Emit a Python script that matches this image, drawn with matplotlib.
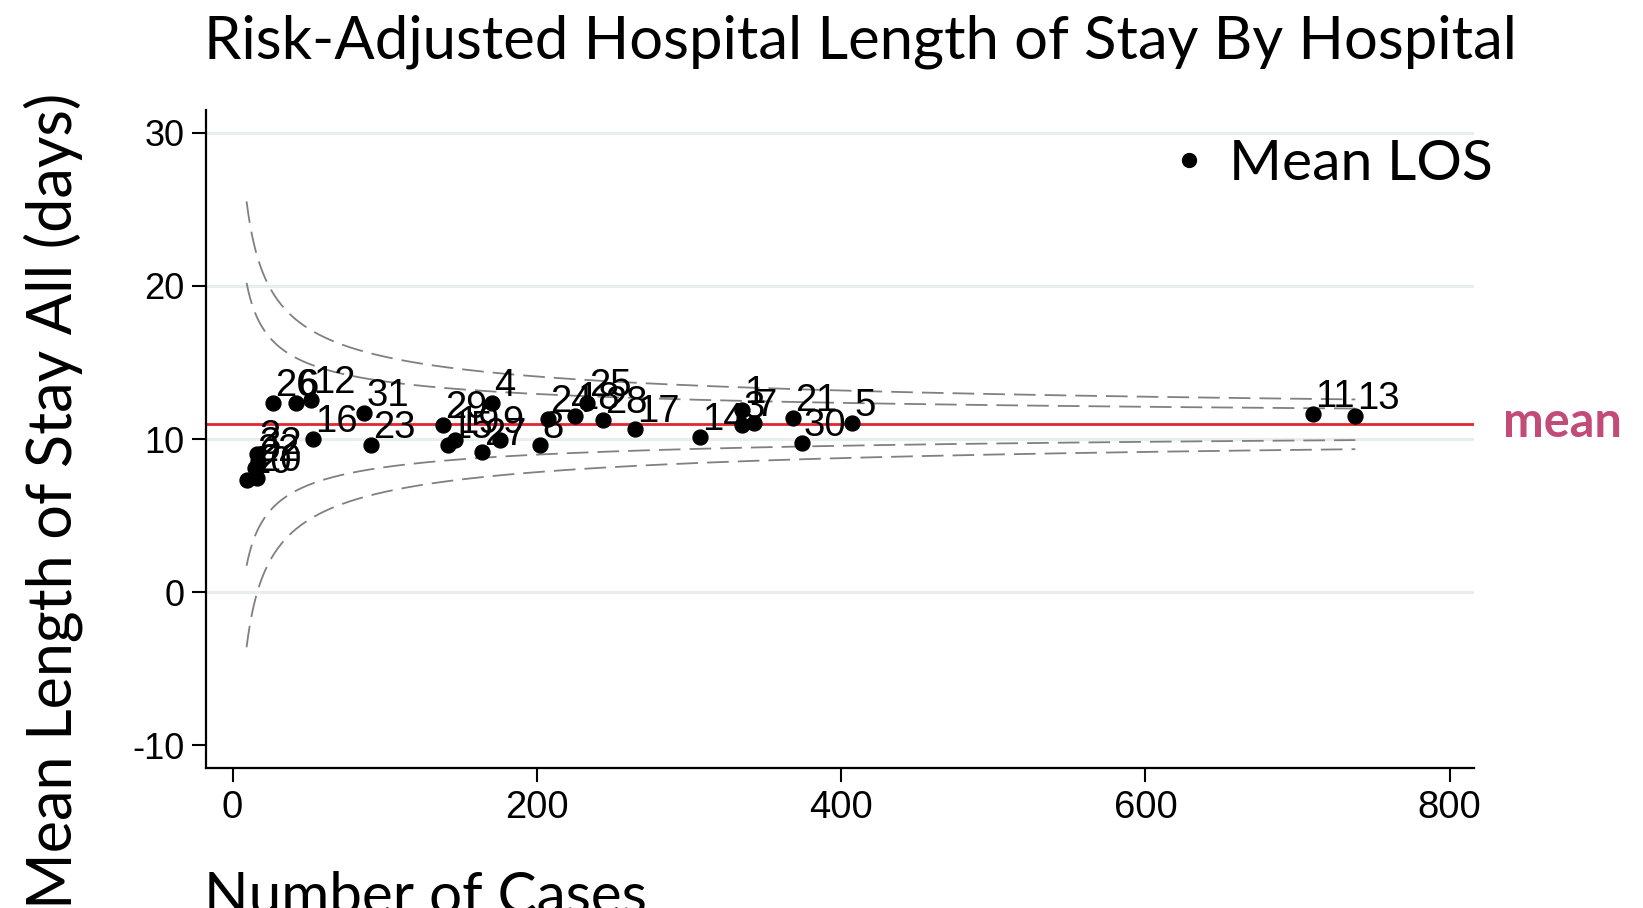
import numpy as np
import matplotlib
matplotlib.use("Agg")
import matplotlib.pyplot as plt
from matplotlib.lines import Line2D

# ---- data ----
hospital = ["10", "20", "22", "32", "2", "26", "6", "12", "16", "31", "23",
            "29", "15", "19", "27", "4", "9", "8", "24", "18", "25", "28",
            "17", "14", "1", "3", "7", "21", "30", "5", "11", "13"]
cases = [9.2, 15.8, 15.0, 16.5, 15.8, 26.6, 41.5, 51.5, 52.6, 86.4, 90.8,
         138.5, 141.8, 146.2, 163.8, 170.4, 175.8, 202.1, 207.6, 225.1, 232.8, 243.7,
         264.6, 307.3, 334.7, 334.7, 342.8, 368.7, 374.2, 407.1, 710.0, 738.0]
mean_los = [7.32, 7.43, 8.10, 8.55, 9.05, 12.34, 12.34, 12.55, 9.98, 11.72, 9.61,
            10.92, 9.61, 9.94, 9.17, 12.38, 9.94, 9.61, 11.29, 11.50, 12.33, 11.25,
            10.66, 10.15, 11.90, 10.92, 11.03, 11.35, 9.72, 11.07, 11.64, 11.50]
overall_mean = 10.96
sd_los = 14.3
z_inner = 1.96
z_outer = 3.09

xticks = [0, 200, 400, 600, 800]
yticks = [-10, 0, 10, 20, 30]
grid_vals = [0, 10, 20, 30]

W, H = 1643, 908
fig = plt.figure(figsize=(W / 100, H / 100), dpi=100)
ax = fig.add_axes([206.4 / W, 1 - 768 / H, (1474 - 206.4) / W, (768 - 110) / H])

ax.set_xlim(-17.2, 816)
ax.set_ylim(-11.5, 31.5)

for g in grid_vals:
    ax.axhline(g, color="#e7eeed", lw=2.2, zorder=0)

# funnel limits
n = np.linspace(min(cases), max(cases), 600)
for z in (z_inner, z_outer):
    d = z * sd_los / np.sqrt(n)
    ax.plot(n, overall_mean + d, color="#808080", lw=1.3, ls=(0, (12, 5)), zorder=1)
    ax.plot(n, overall_mean - d, color="#808080", lw=1.3, ls=(0, (12, 5)), zorder=1)

ax.axhline(overall_mean, color="#e3262e", lw=2.0, zorder=2)

ax.scatter(cases, mean_los, s=115, color="black", zorder=3)
for lab, x, y in zip(hospital, cases, mean_los):
    ax.annotate(lab, (x, y), xytext=(1.5, 5), textcoords="offset points",
                fontsize=27.5, family="Liberation Sans", color="black",
                ha="left", va="baseline", zorder=4)

ax.set_xticks(xticks)
ax.set_yticks(yticks)
ax.set_xticklabels([str(v) for v in xticks], fontsize=27.5, family="Liberation Sans")
ax.set_yticklabels([str(v) for v in yticks], fontsize=26, family="Liberation Sans")
ax.tick_params(axis="both", length=10, width=1.5, color="black", pad=6)
for s in ("top", "right"):
    ax.spines[s].set_visible(False)
for s in ("left", "bottom"):
    ax.spines[s].set_linewidth(1.6)

label_font = "Lato"
fig.text(204 / W, 1 - 42 / H, "Risk-Adjusted Hospital Length of Stay By Hospital",
         fontsize=43, family=label_font, ha="left", va="center")
fig.text(72 / W, 1 - 501 / H, "Mean Length of Stay All (days)", rotation=90,
         rotation_mode="anchor", ha="center", va="baseline", fontsize=44, family=label_font)
fig.text(204 / W, -6 / H, "Number of Cases", ha="left", va="baseline",
         fontsize=42, family=label_font)
fig.text(1503 / W, 1 - 437 / H, "mean", ha="left", va="baseline", fontsize=35,
         family=label_font, fontweight="bold", color="#c24b77")

handle = Line2D([], [], ls="none", marker="o", color="black", markersize=10)
fig.legend([handle], ["Mean LOS"], loc="center right", bbox_to_anchor=(1493 / W, 1 - 164 / H),
           frameon=False, prop={"family": label_font, "size": 41}, handletextpad=0.3,
           borderpad=0, borderaxespad=0, handlelength=0.8)

fig.savefig("out.png", dpi=100)
